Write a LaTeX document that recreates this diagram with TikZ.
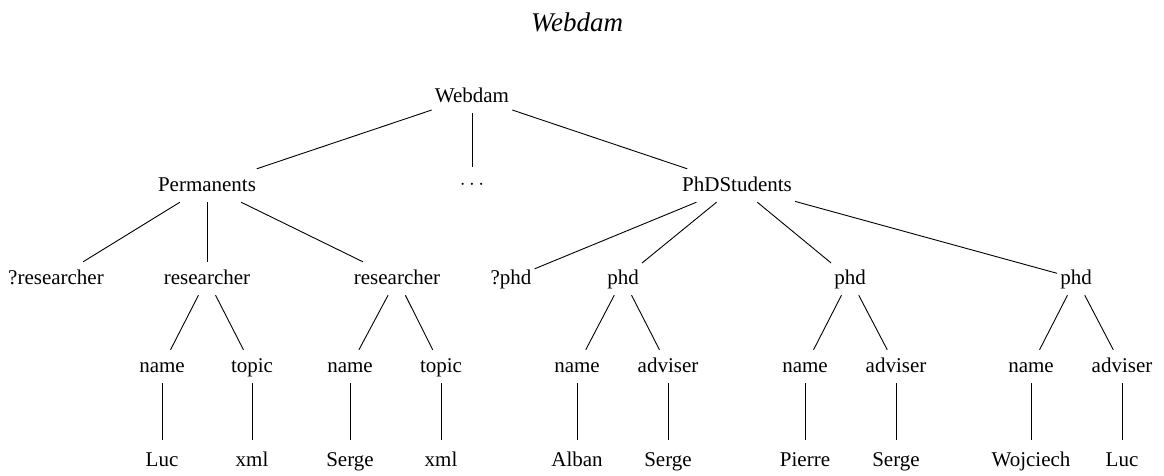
\documentclass[tikz,border=0pt]{standalone}
\usepackage{fontspec}
\setmainfont{Liberation Serif}
\begin{document}
\begin{tikzpicture}[x=1pt,y=-1pt,
  lbl/.style={font=\fontsize{21}{25}\selectfont, anchor=base, text height=16pt, text depth=5pt, inner xsep=3pt, inner ysep=6pt},
  leaf/.style={lbl, text height=20pt},
  edge/.style={line width=0.9pt, black}]
\useasboundingbox (0,0) rectangle (1164,475);
\node[font=\fontsize{27}{32}\selectfont\itshape, anchor=base] (title) at (577,31) {Webdam};
% root
\node[lbl] (root) at (472,102) {Webdam};
% level 1
\node[lbl] (perm) at (207,191) {Permanents};
\node[lbl] (dots) at (472,189) {$\cdots$};
\node[lbl] (phds) at (737,191) {PhDStudents};
% level 2
\node[lbl] (qres) at (56,284) {?researcher};
\node[lbl] (res1) at (207,284) {researcher};
\node[lbl] (res2) at (397,284) {researcher};
\node[lbl] (qphd) at (511,284) {?phd};
\node[lbl] (phd1) at (623,284) {phd};
\node[lbl] (phd2) at (850,284) {phd};
\node[lbl] (phd3) at (1076,284) {phd};
% level 3
\node[lbl] (n1) at (162,372) {name};
\node[lbl] (t1) at (252,372) {topic};
\node[lbl] (n2) at (350,372) {name};
\node[lbl] (t2) at (441,372) {topic};
\node[lbl] (n3) at (577,372) {name};
\node[lbl] (a3) at (668,372) {adviser};
\node[lbl] (n4) at (805,372) {name};
\node[lbl] (a4) at (896,372) {adviser};
\node[lbl] (n5) at (1031,372) {name};
\node[lbl] (a5) at (1122,372) {adviser};
% level 4
\node[leaf] (v1) at (162,466) {Luc};
\node[leaf] (w1) at (252,466) {xml};
\node[leaf] (v2) at (350,466) {Serge};
\node[leaf] (w2) at (441,466) {xml};
\node[leaf] (v3) at (577,466) {Alban};
\node[leaf] (b3) at (668,466) {Serge};
\node[leaf] (v4) at (805,466) {Pierre};
\node[leaf] (b4) at (896,466) {Serge};
\node[leaf] (v5) at (1031,466) {Wojciech};
\node[leaf] (b5) at (1122,466) {Luc};
% edges
\draw[edge] (root) -- (perm);
\draw[edge] (root) -- (dots);
\draw[edge] (root) -- (phds);
\draw[edge] (perm) -- (qres);
\draw[edge] (perm) -- (res1);
\draw[edge] (perm) -- (res2);
\draw[edge] (phds) -- (qphd);
\draw[edge] (phds) -- (phd1);
\draw[edge] (phds) -- (phd2);
\draw[edge] (phds) -- (phd3);
\draw[edge] (res1) -- (n1);
\draw[edge] (res1) -- (t1);
\draw[edge] (res2) -- (n2);
\draw[edge] (res2) -- (t2);
\draw[edge] (phd1) -- (n3);
\draw[edge] (phd1) -- (a3);
\draw[edge] (phd2) -- (n4);
\draw[edge] (phd2) -- (a4);
\draw[edge] (phd3) -- (n5);
\draw[edge] (phd3) -- (a5);
\draw[edge] (n1) -- (v1);
\draw[edge] (t1) -- (w1);
\draw[edge] (n2) -- (v2);
\draw[edge] (t2) -- (w2);
\draw[edge] (n3) -- (v3);
\draw[edge] (a3) -- (b3);
\draw[edge] (n4) -- (v4);
\draw[edge] (a4) -- (b4);
\draw[edge] (n5) -- (v5);
\draw[edge] (a5) -- (b5);
\end{tikzpicture}
\end{document}
